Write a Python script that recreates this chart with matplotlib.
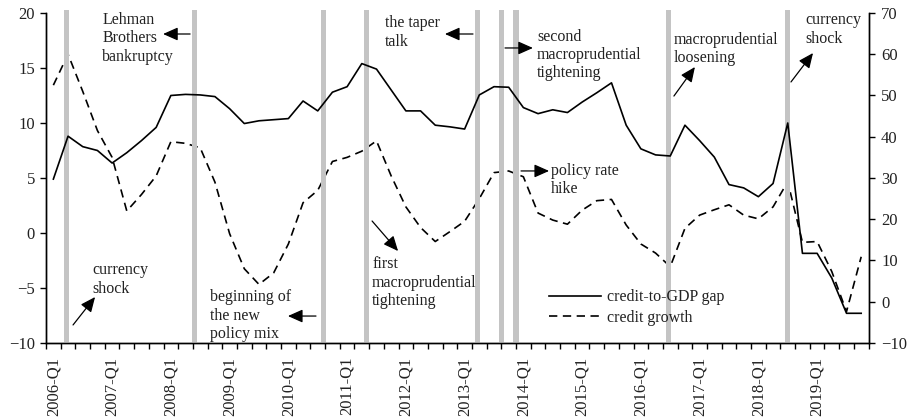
import matplotlib
matplotlib.use("Agg")
import matplotlib.pyplot as plt
import numpy as np

plt.rcParams['font.family'] = ['Liberation Serif', 'DejaVu Serif']

# ---------------- data ----------------
years = list(range(2006, 2020))
quarters = [f"{y}-Q{q}" for y in years for q in range(1, 5)]

credit_gap = [4.9, 8.8, 7.85, 7.5, 6.36, 7.3, 8.4, 9.6,
              12.5, 12.6, 12.55, 12.4, 11.3, 9.95, 10.2, 10.3,
              10.4, 12.0, 11.1, 12.8, 13.3, 15.4, 14.9, 13.0,
              11.1, 11.1, 9.8, 9.65, 9.45, 12.55, 13.3, 13.25,
              11.4, 10.85, 11.2, 10.95, 11.9, 12.75, 13.65, 9.8,
              7.65, 7.1, 7.0, 9.8, 8.4, 6.9, 4.4, 4.1,
              3.3, 4.5, 10.0, -1.85, -1.85, -4.1, -7.3, -7.3]

credit_growth = [52.5, 60.0, 51.0, 41.5, 35.0, 22.0, 26.0, 30.5,
                 38.8, 38.4, 37.3, 29.0, 16.5, 8.0, 4.2, 7.0,
                 14.0, 24.0, 27.0, 34.0, 35.0, 36.5, 39.0, 30.5,
                 23.0, 18.0, 14.6, 17.0, 19.5, 25.0, 31.3, 31.7,
                 30.3, 21.5, 19.8, 18.8, 22.2, 24.5, 24.8, 18.6,
                 14.0, 11.8, 8.5, 17.8, 21.0, 22.3, 23.5, 21.0,
                 20.1, 23.0, 29.1, 14.4, 14.6, 7.3, -2.4, 10.9]

# event markers (position in quarters since 2006-Q1)
event_pos = [0.91, 9.6, 18.4, 21.3, 28.9, 30.5, 31.5, 41.9, 50.0]

left_ticks = [-10, -5, 0, 5, 10, 15, 20]
right_ticks = [-10, 0, 10, 20, 30, 40, 50, 60, 70]

# annotations: text, text anchor (x, y), arrow tail, arrow head  (x in quarters, y in left-axis units)
annotations = [
    ("currency\nshock", (2.63, -4.23), (1.34, -8.36), (2.84, -5.82)),
    ("Lehman\nBrothers\nbankruptcy", (3.32, 17.7), (9.31, 18.09), (7.47, 18.09)),
    ("beginning of\nthe new\npolicy mix", (10.67, -7.52), (17.88, -7.55), (15.97, -7.55)),
    ("first\nmacroprudential\ntightening", (21.7, -4.52), (21.7, 1.09), (23.47, -1.64)),
    ("the taper\ntalk", (22.58, 18.23), (28.57, 18.09), (26.66, 18.09)),
    ("second\nmacroprudential\ntightening", (32.93, 16.18), (30.75, 16.82), (32.65, 16.82)),
    ("policy rate\nhike", (33.88, 4.82), (31.84, 5.64), (33.75, 5.64)),
    ("macroprudential\nloosening", (42.25, 16.73), (42.25, 12.45), (43.68, 15.09)),
    ("currency\nshock", (51.17, 18.5), (50.22, 13.73), (51.72, 16.36)),
]

# ---------------- figure ----------------
fig = plt.figure(figsize=(9.13, 4.19), dpi=100)
ax = fig.add_axes([0.0504, 0.1814, 0.9009, 0.7876])
ax2 = ax.twinx()

x = np.arange(len(quarters))
txt_color = '#222222'

for p in event_pos:
    ax.axvspan(p - 0.18, p + 0.18, ymin=0, ymax=1.01, color='#c4c4c4', lw=0, zorder=0, clip_on=False)

l1, = ax.plot(x, credit_gap, color='black', lw=1.2, zorder=3, label='credit-to-GDP gap')
l2, = ax2.plot(x, credit_growth, color='black', lw=1.2, ls=(0, (5, 3.3)), zorder=3, label='credit growth')

ax.set_xlim(-0.5, len(quarters) - 0.5)
ax.set_ylim(-10, 20)
ax2.set_ylim(-10, 70)

ax.set_yticks(left_ticks)
ax2.set_yticks(right_ticks)

# x axis: labels at Q1 centers, tick marks at quarter boundaries
ax.set_xticks(x[::4])
ax.set_xticklabels(quarters[::4], rotation=90)
ax.set_xticks(np.arange(-0.5, len(quarters) + 0.5, 1), minor=True)
ax.tick_params(axis='x', which='major', length=0, pad=10, labelsize=12, colors=txt_color)
ax.tick_params(axis='x', which='minor', length=4.5, width=1.0, direction='out', color='black')
ax.tick_params(axis='y', length=4, width=1.0, direction='out', pad=4, labelsize=12, labelcolor=txt_color)
ax2.tick_params(axis='y', length=4, width=1.0, direction='out', pad=5, labelsize=12, labelcolor=txt_color)

for a in (ax, ax2):
    a.spines['top'].set_visible(False)
    for s in ('left', 'right', 'bottom'):
        a.spines[s].set_linewidth(1.0)

for text, tpos, tail, head in annotations:
    ax.text(tpos[0], tpos[1], text, ha='left', va='center', fontsize=11.5,
            color=txt_color, linespacing=1.2, zorder=4)
    ax.annotate('', xy=head, xytext=tail,
                arrowprops=dict(arrowstyle='-|>,head_length=0.45,head_width=0.2',
                                mutation_scale=20, lw=0.9, color='black',
                                shrinkA=0, shrinkB=0), zorder=4)

ax.set_zorder(ax2.get_zorder() + 1)
ax.patch.set_visible(False)

leg = ax.legend([l1, l2], ['credit-to-GDP gap', 'credit growth'], loc='upper left',
                bbox_to_anchor=(0.612, 0.163), frameon=False, fontsize=11.5,
                handlelength=3.2, handletextpad=0.4, labelspacing=0.3, borderpad=0,
                borderaxespad=0)
for t in leg.get_texts():
    t.set_color(txt_color)

fig.savefig('out.png', dpi=100)
